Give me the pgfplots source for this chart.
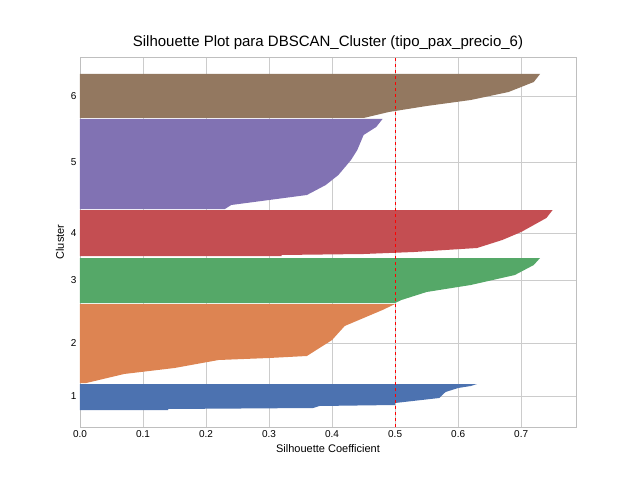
\documentclass[border=0pt]{standalone}
\usepackage{pgfplots}
\pgfplotsset{compat=1.18}
\usepackage{fontspec}
\setmainfont{Liberation Sans}
\definecolor{c1}{HTML}{4C72B0}
\definecolor{c2}{HTML}{DD8452}
\definecolor{c3}{HTML}{55A868}
\definecolor{c4}{HTML}{C44E52}
\definecolor{c5}{HTML}{8172B3}
\definecolor{c6}{HTML}{937860}
\begin{document}
\begin{tikzpicture}
\path[use as bounding box] (-80pt,-53pt) rectangle (560pt,427pt);
\begin{axis}[at={(0,0)},anchor=south west,
 width=496pt,height=370pt,scale only axis,
 xmin=0,xmax=0.787,ymin=-427,ymax=-57,
 xtick={0,0.1,...,0.7},
 xticklabels={0.0,0.1,0.2,0.3,0.4,0.5,0.6,0.7},
 ytick={-396,-343,-280,-233,-162,-96},
 yticklabels={1,2,3,4,5,6},
 grid=major,grid style={color=black!20,line width=0.8pt},
 axis line style={color=black!25,line width=0.8pt},
 tick style={draw=none},
 ticklabel style={font=\fontsize{10}{12}\selectfont},
 /pgf/number format/assume math mode=true,
 xlabel={Silhouette Coefficient},ylabel={Cluster},
 label style={font=\fontsize{11}{13}\selectfont},
 title={Silhouette Plot para DBSCAN\_Cluster (tipo\_pax\_precio\_6)},
 title style={font=\fontsize{15}{18}\selectfont,yshift=-2pt},
 axis on top=false]
\addplot[fill=c1,draw=none] coordinates {(0,-384)(0.63,-384)(0.62,-386)(0.6,-388)(0.58,-392)(0.57,-398)(0.5,-403)(0.5,-405)(0.38,-406)(0.37,-408)(0.14,-409)(0.14,-410)(0,-410)} -- cycle;
\addplot[fill=c2,draw=none] coordinates {(0,-304)(0.5,-304)(0.48,-310)(0.45,-318)(0.42,-326)(0.4,-340)(0.36,-356)(0.3,-358)(0.22,-360)(0.15,-368)(0.07,-374)(0.03,-380)(0.01,-383)(0,-383)} -- cycle;
\addplot[fill=c3,draw=none] coordinates {(0,-258)(0.73,-258)(0.72,-265)(0.69,-275)(0.62,-285)(0.55,-292)(0.51,-300)(0.5,-303)(0,-303)} -- cycle;
\addplot[fill=c4,draw=none] coordinates {(0,-210)(0.75,-210)(0.74,-218)(0.72,-225)(0.70,-232)(0.67,-240)(0.63,-248)(0.53,-252)(0.45,-254)(0.32,-255)(0.32,-256)(0,-256)} -- cycle;
\addplot[fill=c5,draw=none] coordinates {(0,-119)(0.48,-119)(0.47,-127)(0.45,-135)(0.44,-150)(0.43,-160)(0.41,-175)(0.39,-185)(0.36,-195)(0.3,-200)(0.24,-205)(0.23,-209)(0,-209)} -- cycle;
\addplot[fill=c6,draw=none] coordinates {(0,-74)(0.73,-74)(0.72,-82)(0.68,-92)(0.62,-100)(0.55,-106)(0.49,-112)(0.45,-118)(0,-118)} -- cycle;
\addplot[red,dashed,line width=1.2pt] coordinates {(0.5,-427)(0.5,-57)};
\end{axis}
\end{tikzpicture}
\end{document}
